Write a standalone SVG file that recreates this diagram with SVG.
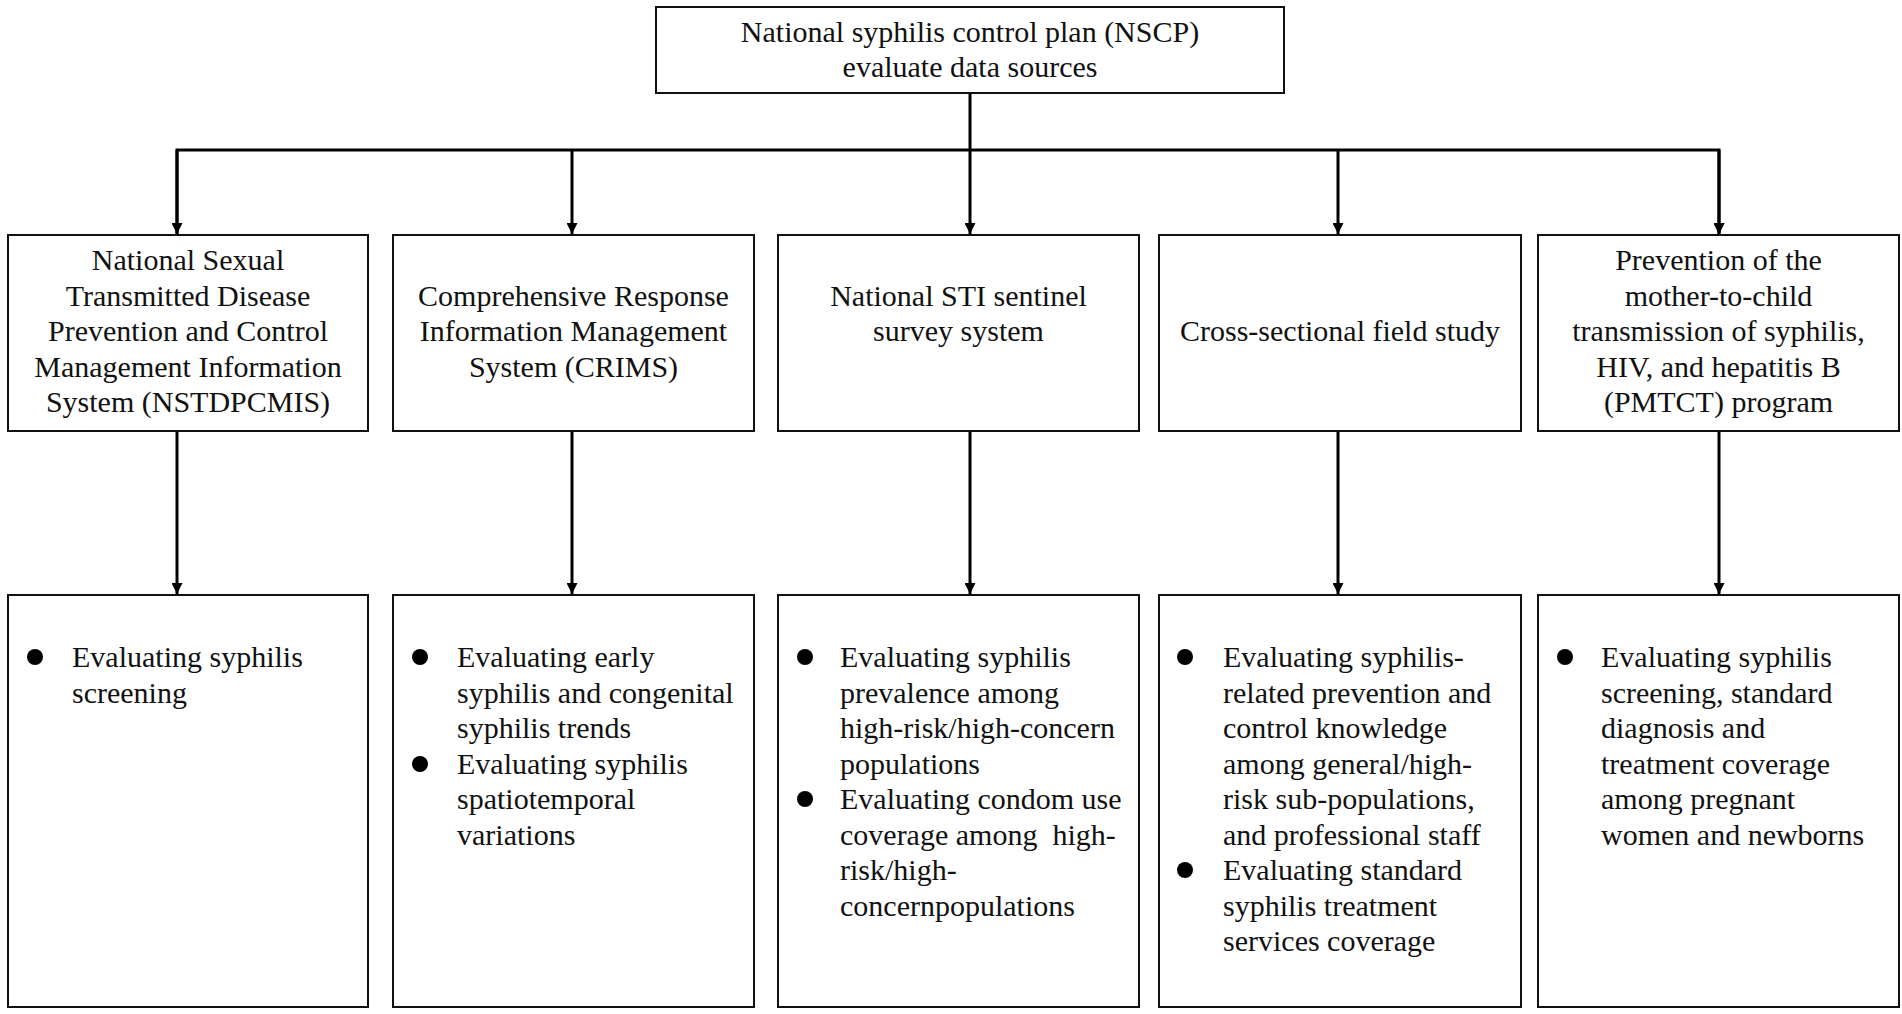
<svg xmlns="http://www.w3.org/2000/svg" width="1902" height="1014" viewBox="0 0 1902 1014">
<style>
.box{fill:#fff;stroke:#111;stroke-width:2}
.t{font-family:"Liberation Serif","Times New Roman",serif;font-size:30px;fill:#111}
.c{text-anchor:middle}
.conn{fill:none;stroke:#000;stroke-width:3}
.dot{fill:#000}
</style>
<defs>
<marker id="ah" viewBox="0 0 11 11" markerWidth="11" markerHeight="11" refX="11" refY="5.5" orient="auto" markerUnits="userSpaceOnUse">
<path d="M0,0 L11,5.5 L0,11 Z" fill="#000"/>
</marker>
</defs>
<rect width="1902" height="1014" fill="#fff"/>

<g id="connectors">
<path class="conn" d="M970,93 V150"/>
<path class="conn" d="M177,234 V150 H1719 V234" marker-end="url(#ah)"/>
<path class="conn" d="M177,150 V234" marker-end="url(#ah)"/>
<path class="conn" d="M572,150 V234" marker-end="url(#ah)"/>
<path class="conn" d="M970,150 V234" marker-end="url(#ah)"/>
<path class="conn" d="M1338,150 V234" marker-end="url(#ah)"/>
<path class="conn" d="M1719,150 V234" marker-end="url(#ah)"/>
<path class="conn" d="M177,431 V594" marker-end="url(#ah)"/>
<path class="conn" d="M572,431 V594" marker-end="url(#ah)"/>
<path class="conn" d="M970,431 V594" marker-end="url(#ah)"/>
<path class="conn" d="M1338,431 V594" marker-end="url(#ah)"/>
<path class="conn" d="M1719,431 V594" marker-end="url(#ah)"/>
</g>

<g id="top">
<rect class="box" x="656" y="7" width="628" height="86"/>
<text class="t c" x="970" y="42">National syphilis control plan (NSCP)</text>
<text class="t c" x="970" y="77">evaluate data sources</text>
</g>

<g id="src1">
<rect class="box" x="8" y="235" width="360" height="196"/>
<text class="t c" x="188" y="270">National Sexual</text>
<text class="t c" x="188" y="305.5">Transmitted Disease</text>
<text class="t c" x="188" y="341">Prevention and Control</text>
<text class="t c" x="188" y="376.5">Management Information</text>
<text class="t c" x="188" y="412">System (NSTDPCMIS)</text>
</g>
<g id="src2">
<rect class="box" x="393" y="235" width="361" height="196"/>
<text class="t c" x="573.5" y="305.5">Comprehensive Response</text>
<text class="t c" x="573.5" y="341">Information Management</text>
<text class="t c" x="573.5" y="376.5">System (CRIMS)</text>
</g>
<g id="src3">
<rect class="box" x="778" y="235" width="361" height="196"/>
<text class="t c" x="958.5" y="305.5">National STI sentinel</text>
<text class="t c" x="958.5" y="341">survey system</text>
</g>
<g id="src4">
<rect class="box" x="1159" y="235" width="362" height="196"/>
<text class="t c" x="1340" y="341">Cross-sectional field study</text>
</g>
<g id="src5">
<rect class="box" x="1538" y="235" width="361" height="196"/>
<text class="t c" x="1718.5" y="270">Prevention of the</text>
<text class="t c" x="1718.5" y="305.5">mother-to-child</text>
<text class="t c" x="1718.5" y="341">transmission of syphilis,</text>
<text class="t c" x="1718.5" y="376.5">HIV, and hepatitis B</text>
<text class="t c" x="1718.5" y="412">(PMTCT) program</text>
</g>

<g id="out1">
<rect class="box" x="8" y="595" width="360" height="412"/>
<circle class="dot" cx="35" cy="657" r="8"/>
<text class="t" x="72" y="667">Evaluating syphilis</text>
<text class="t" x="72" y="703">screening</text>
</g>
<g id="out2">
<rect class="box" x="393" y="595" width="361" height="412"/>
<circle class="dot" cx="420" cy="657" r="8"/>
<text class="t" x="457" y="667">Evaluating early</text>
<text class="t" x="457" y="703">syphilis and congenital</text>
<text class="t" x="457" y="738">syphilis trends</text>
<circle class="dot" cx="420" cy="764" r="8"/>
<text class="t" x="457" y="774">Evaluating syphilis</text>
<text class="t" x="457" y="809">spatiotemporal</text>
<text class="t" x="457" y="845">variations</text>
</g>
<g id="out3">
<rect class="box" x="778" y="595" width="361" height="412"/>
<circle class="dot" cx="805" cy="657" r="8"/>
<text class="t" x="840" y="667">Evaluating syphilis</text>
<text class="t" x="840" y="703">prevalence among</text>
<text class="t" x="840" y="738">high-risk/high-concern</text>
<text class="t" x="840" y="774">populations</text>
<circle class="dot" cx="805" cy="799" r="8"/>
<text class="t" x="840" y="809">Evaluating condom use</text>
<text class="t" x="840" y="845" xml:space="preserve">coverage among  high-</text>
<text class="t" x="840" y="880">risk/high-</text>
<text class="t" x="840" y="916">concernpopulations</text>
</g>
<g id="out4">
<rect class="box" x="1159" y="595" width="362" height="412"/>
<circle class="dot" cx="1185" cy="657" r="8"/>
<text class="t" x="1223" y="667">Evaluating syphilis-</text>
<text class="t" x="1223" y="703">related prevention and</text>
<text class="t" x="1223" y="738">control knowledge</text>
<text class="t" x="1223" y="774">among general/high-</text>
<text class="t" x="1223" y="809">risk sub-populations,</text>
<text class="t" x="1223" y="845">and professional staff</text>
<circle class="dot" cx="1185" cy="870" r="8"/>
<text class="t" x="1223" y="880">Evaluating standard</text>
<text class="t" x="1223" y="916">syphilis treatment</text>
<text class="t" x="1223" y="951">services coverage</text>
</g>
<g id="out5">
<rect class="box" x="1538" y="595" width="361" height="412"/>
<circle class="dot" cx="1565" cy="657" r="8"/>
<text class="t" x="1601" y="667">Evaluating syphilis</text>
<text class="t" x="1601" y="703">screening, standard</text>
<text class="t" x="1601" y="738">diagnosis and</text>
<text class="t" x="1601" y="774">treatment coverage</text>
<text class="t" x="1601" y="809">among pregnant</text>
<text class="t" x="1601" y="845">women and newborns</text>
</g>
</svg>
